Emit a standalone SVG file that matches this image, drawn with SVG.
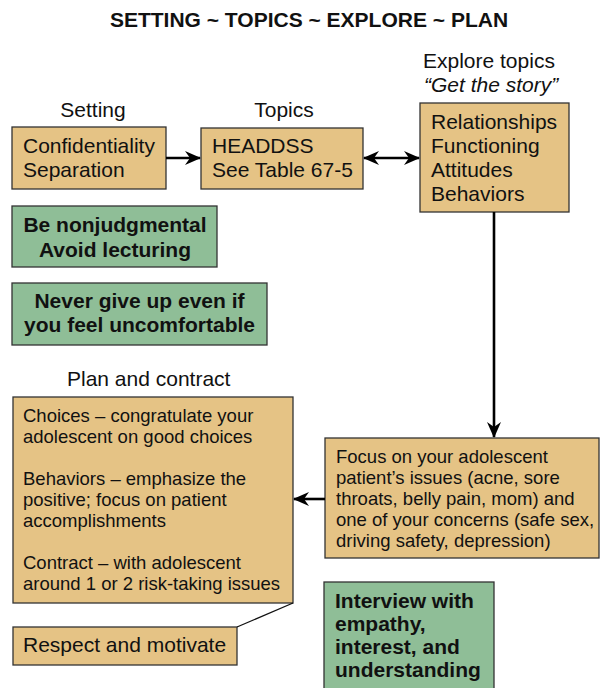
<svg xmlns="http://www.w3.org/2000/svg" width="600" height="688" viewBox="0 0 600 688">
<defs>
<style>
.tan{fill:#E5C385;stroke:#333;stroke-width:1.3}
.grn{fill:#8FBE97;stroke:#333;stroke-width:1.3}
text{font-family:"Liberation Sans",Arial,sans-serif;fill:#111}
.t21{font-size:21px}
.t18{font-size:18.5px}
.b{font-weight:bold}
.conn{stroke:#000;stroke-width:2.6;fill:none}
</style>
<marker id="ah" markerUnits="userSpaceOnUse" markerWidth="16" markerHeight="14" refX="15" refY="7" orient="auto-start-reverse">
<path d="M0,0 L16,7 L0,14 L5,7 Z" fill="#000"/>
</marker>
</defs>
<text class="t21 b" x="309" y="27" text-anchor="middle">SETTING ~ TOPICS ~ EXPLORE ~ PLAN</text>
<g id="labels">
<text class="t21" x="93" y="117" text-anchor="middle">Setting</text>
<text class="t21" x="284" y="117" text-anchor="middle">Topics</text>
<text class="t21" x="423" y="68">Explore topics</text>
<text class="t21" x="424" y="92" font-style="italic">“Get the story”</text>
<text class="t21" x="67" y="386">Plan and contract</text>
</g>
<g id="setting">
<rect class="tan" x="12" y="127" width="154" height="62"/>
<text class="t21" x="23" y="153">Confidentiality</text>
<text class="t21" x="23" y="177">Separation</text>
</g>
<g id="topics">
<rect class="tan" x="201" y="128" width="162" height="61"/>
<text class="t21" x="212" y="153">HEADDSS</text>
<text class="t21" x="212" y="177">See Table 67-5</text>
</g>
<g id="explore">
<rect class="tan" x="420" y="103" width="149" height="109"/>
<text class="t21" x="431" y="129">Relationships</text>
<text class="t21" x="431" y="153">Functioning</text>
<text class="t21" x="431" y="177">Attitudes</text>
<text class="t21" x="431" y="201">Behaviors</text>
</g>
<g id="nonjudgmental">
<rect class="grn" x="12" y="206" width="205" height="61"/>
<text class="t21 b" x="115" y="232" text-anchor="middle">Be nonjudgmental</text>
<text class="t21 b" x="115" y="257" text-anchor="middle">Avoid lecturing</text>
</g>
<g id="nevergiveup">
<rect class="grn" x="12" y="283" width="255" height="62"/>
<text class="t21 b" x="139.5" y="308" text-anchor="middle">Never give up even if</text>
<text class="t21 b" x="139.5" y="332" text-anchor="middle">you feel uncomfortable</text>
</g>
<g id="plan">
<rect class="tan" x="13" y="397" width="280" height="206"/>
<text class="t18" x="23" y="422">Choices – congratulate your</text>
<text class="t18" x="23" y="443">adolescent on good choices</text>
<text class="t18" x="23" y="485">Behaviors – emphasize the</text>
<text class="t18" x="23" y="506">positive; focus on patient</text>
<text class="t18" x="23" y="527">accomplishments</text>
<text class="t18" x="23" y="569">Contract – with adolescent</text>
<text class="t18" x="23" y="590">around 1 or 2 risk-taking issues</text>
</g>
<g id="respect">
<rect class="tan" x="13" y="627" width="224" height="38"/>
<text class="t21" x="23" y="652">Respect and motivate</text>
</g>
<g id="focus">
<rect class="tan" x="325" y="438" width="274" height="120"/>
<text class="t18" x="336" y="463">Focus on your adolescent</text>
<text class="t18" x="336" y="484">patient’s issues (acne, sore</text>
<text class="t18" x="336" y="505">throats, belly pain, mom) and</text>
<text class="t18" x="336" y="526">one of your concerns (safe sex,</text>
<text class="t18" x="336" y="547">driving safety, depression)</text>
</g>
<g id="interview">
<rect class="grn" x="324" y="582" width="170" height="110"/>
<text class="t21 b" x="335" y="608">Interview with</text>
<text class="t21 b" x="335" y="631">empathy,</text>
<text class="t21 b" x="335" y="654">interest, and</text>
<text class="t21 b" x="335" y="677">understanding</text>
</g>
<g id="connectors">
<line class="conn" x1="166" y1="158" x2="200" y2="158" marker-end="url(#ah)"/>
<line class="conn" x1="364" y1="158" x2="419" y2="158" marker-start="url(#ah)" marker-end="url(#ah)"/>
<line class="conn" x1="494" y1="212" x2="494" y2="437" marker-end="url(#ah)"/>
<line class="conn" x1="325" y1="499" x2="294" y2="499" marker-end="url(#ah)"/>
<line x1="293" y1="603" x2="237" y2="627" stroke="#111" stroke-width="1.3"/>
</g>
</svg>
